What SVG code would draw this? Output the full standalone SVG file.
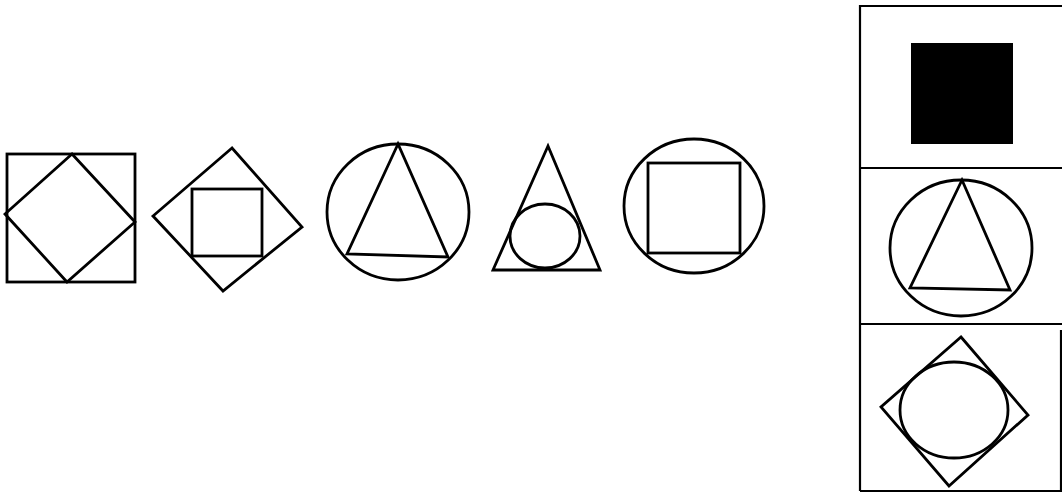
<svg xmlns="http://www.w3.org/2000/svg" width="1062" height="492" viewBox="0 0 1062 492">
<style>
.s{fill:none;stroke:#000;stroke-width:2.8;stroke-linejoin:miter}
.b{fill:none;stroke:#000;stroke-width:2.2}
</style>
<rect width="1062" height="492" fill="#fff"/>
<g id="fig1">
<rect class="s" x="7" y="154" width="128" height="128"/>
<polygon class="s" points="72,154 5,214 67,282 135,222"/>
</g>
<g id="fig2">
<polygon class="s" points="232,148 153,216 223,291 302,227"/>
<rect class="s" x="192" y="189" width="70" height="67"/>
</g>
<g id="fig3">
<ellipse class="s" cx="398" cy="212" rx="71" ry="68"/>
<polygon class="s" points="398,144 347,254 448,257"/>
</g>
<g id="fig4">
<polygon class="s" points="548,146 493,270 600,270"/>
<ellipse class="s" cx="545" cy="236" rx="35" ry="32"/>
</g>
<g id="fig5">
<ellipse class="s" cx="694" cy="206" rx="70" ry="67"/>
<rect class="s" x="648" y="163" width="92" height="90"/>
</g>
<g id="options">
<line class="b" x1="860" y1="5" x2="860" y2="491"/>
<line class="b" x1="860" y1="6" x2="1062" y2="6"/>
<line class="b" x1="860" y1="168" x2="1062" y2="168"/>
<line class="b" x1="860" y1="324" x2="1062" y2="324"/>
<line class="b" x1="860" y1="491" x2="1062" y2="491"/>
<line class="b" x1="1061" y1="330" x2="1061" y2="491"/>
</g>
<g id="optA">
<rect x="911" y="43" width="102" height="101" fill="#000"/>
</g>
<g id="optB">
<ellipse class="s" cx="961" cy="248" rx="71" ry="68"/>
<polygon class="s" points="962,180 910,288 1010,290"/>
</g>
<g id="optC">
<polygon class="s" points="961,337 1028,415 949,486 881,407"/>
<ellipse class="s" cx="954" cy="410" rx="54" ry="48"/>
</g>
</svg>
